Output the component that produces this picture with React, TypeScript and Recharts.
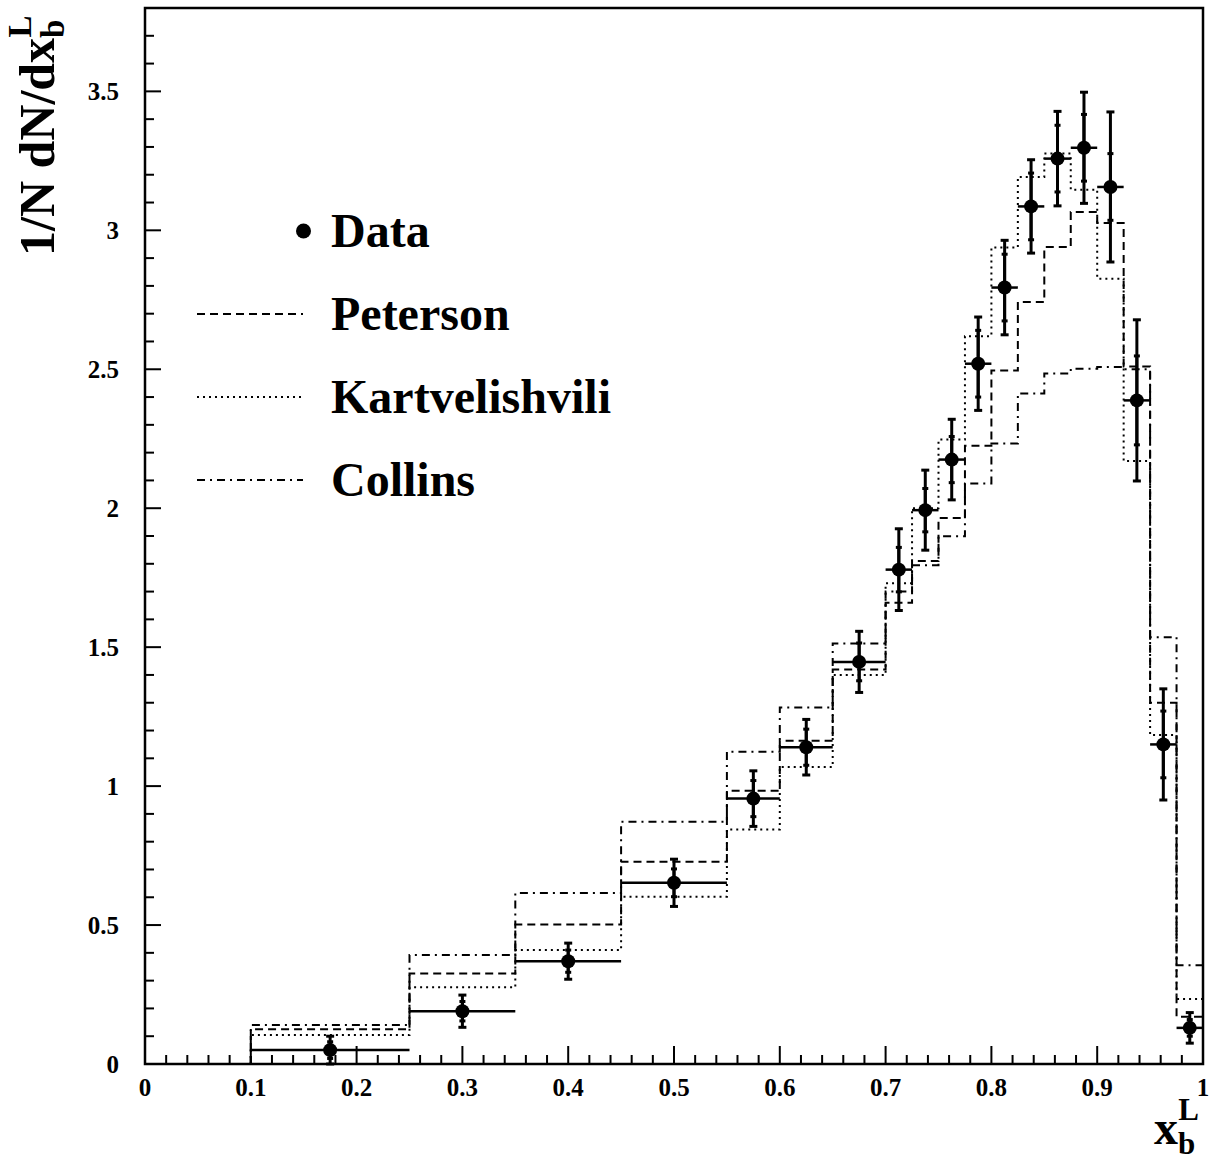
import React from 'react';
import { ComposedChart, Line, Scatter, XAxis, YAxis, ErrorBar, ReferenceArea, Legend, Label } from 'recharts';

const FONT = "'Liberation Serif', 'Times New Roman', Times, serif";

// Bin edges (x_b^L)
const binEdges = [0.1, 0.25, 0.35, 0.45, 0.55, 0.6, 0.65, 0.7, 0.725, 0.75, 0.775, 0.8, 0.825, 0.85, 0.875, 0.9, 0.925, 0.95, 0.975, 1.0];

// Measured data
const dataValues = [0.05, 0.19, 0.37, 0.652, 0.955, 1.14, 1.447, 1.779, 1.993, 2.175, 2.52, 2.794, 3.086, 3.258, 3.297, 3.156, 2.388, 1.15, 0.13];
const dataTotalErr = [0.05, 0.058, 0.065, 0.085, 0.1, 0.1, 0.11, 0.147, 0.144, 0.145, 0.168, 0.17, 0.168, 0.17, 0.2, 0.27, 0.29, 0.2, 0.055];
const dataStatErr = [0.03, 0.035, 0.04, 0.05, 0.065, 0.065, 0.068, 0.08, 0.078, 0.083, 0.12, 0.12, 0.12, 0.12, 0.12, 0.12, 0.16, 0.12, 0.03];

// Model histograms
const petersonValues = [0.125, 0.326, 0.502, 0.728, 0.983, 1.163, 1.42, 1.66, 1.81, 1.965, 2.225, 2.496, 2.742, 2.94, 3.066, 3.026, 2.51, 1.3, 0.17];
const kartvelishviliValues = [0.104, 0.276, 0.41, 0.602, 0.844, 1.069, 1.4, 1.73, 2.0, 2.247, 2.619, 2.938, 3.192, 3.276, 3.146, 2.826, 2.17, 1.184, 0.234];
const collinsValues = [0.14, 0.392, 0.615, 0.872, 1.124, 1.283, 1.513, 1.7, 1.795, 1.899, 2.089, 2.233, 2.413, 2.485, 2.502, 2.508, 2.5, 1.536, 0.355];

// Axis ticks
const xTickLabels = ['0', '0.1', '0.2', '0.3', '0.4', '0.5', '0.6', '0.7', '0.8', '0.9', '1'];
const yTickLabels = ['0', '0.5', '1', '1.5', '2', '2.5', '3', '3.5'];
const X_MAX = 1;
const Y_MAX = 3.8;

const xTicks: number[] = [];
for (let i = 0; i <= 50; i++) xTicks.push(Math.round(i * 2) / 100);
const yTicks: number[] = [];
for (let i = 0; i <= 38; i++) yTicks.push(Math.round(i) / 10);

const dataPoints = dataValues.map((v, i) => ({
  x: (binEdges[i] + binEdges[i + 1]) / 2,
  y: v,
  err: dataTotalErr[i],
  stat: dataStatErr[i],
  xerr: (binEdges[i + 1] - binEdges[i]) / 2,
}));

const toSteps = (vals: number[]) => {
  const pts = [{ x: binEdges[0], y: 0 }];
  vals.forEach((v, i) => pts.push({ x: binEdges[i], y: v }));
  pts.push({ x: binEdges[binEdges.length - 1], y: vals[vals.length - 1] });
  pts.push({ x: binEdges[binEdges.length - 1], y: 0 });
  return pts;
};

const SERIES = [
  { name: 'Peterson', values: petersonValues, dash: '8 5' },
  { name: 'Kartvelishvili', values: kartvelishviliValues, dash: '2 4' },
  { name: 'Collins', values: collinsValues, dash: '8 5 2 5' },
];

const isMajor = (v: number, step: number) => Math.abs(v / step - Math.round(v / step)) < 1e-6;

const XTick = (props: any) => {
  const { x, y, payload } = props;
  const v = payload.value;
  const major = isMajor(v, 0.1);
  return (
    <g>
      <line x1={x} y1={y} x2={x} y2={y - (major ? 18 : 9)} stroke="#000" strokeWidth={2} />
      {major && (
        <text x={x} y={y + 32} textAnchor="middle" fontFamily={FONT} fontWeight="bold" fontSize={25} fill="#000">
          {xTickLabels[Math.round(v * 10)]}
        </text>
      )}
    </g>
  );
};

const YTick = (props: any) => {
  const { x, y, payload } = props;
  const v = payload.value;
  const major = isMajor(v, 0.5);
  return (
    <g>
      <line x1={x} y1={y} x2={x + (major ? 16 : 9)} y2={y} stroke="#000" strokeWidth={2} />
      {major && (
        <text x={x - 26} y={y + 9} textAnchor="end" fontFamily={FONT} fontWeight="bold" fontSize={25} fill="#000">
          {yTickLabels[Math.round(v * 2)]}
        </text>
      )}
    </g>
  );
};

const YTitle = () => (
  <text transform="translate(54,256) rotate(-90)" fontFamily={FONT} fontWeight="bold" fontSize={50} fill="#000">
    1/N dN/dx<tspan fontSize={33} dy={10}>b</tspan>
    <tspan fontSize={33} dx={-18} dy={-33}>L</tspan>
  </text>
);

const XTitle = () => (
  <text x={1154} y={1144} fontFamily={FONT} fontWeight="bold" fontSize={48} fill="#000">
    x<tspan fontSize={31} dy={10}>b</tspan>
    <tspan fontSize={31} dx={-17} dy={-34}>L</tspan>
  </text>
);

const renderLegend = () => (
  <svg width={700} height={520} style={{ display: 'block', overflow: 'visible' }}>
    <circle cx={303.5} cy={231} r={7.5} fill="#000" />
    <text x={331} y={247} fontFamily={FONT} fontWeight="bold" fontSize={48} fill="#000">Data</text>
    {SERIES.map((s, i) => (
      <g key={s.name}>
        <line x1={197} x2={303} y1={314 + i * 83} y2={314 + i * 83} stroke="#000" strokeWidth={2} strokeDasharray={s.dash} />
        <text x={331} y={330 + i * 83} fontFamily={FONT} fontWeight="bold" fontSize={48} fill="#000">{s.name}</text>
      </g>
    ))}
  </svg>
);

export default function App() {
  return (
    <div style={{ position: 'absolute', left: 0, top: 0, width: 1212, height: 1163, background: '#fff' }}>
      <ComposedChart width={1212} height={1163} margin={{ top: 8, right: 9, bottom: 0, left: 0 }}>
        <XAxis
          type="number"
          dataKey="x"
          domain={[0, X_MAX]}
          ticks={xTicks}
          interval={0}
          tickSize={0}
          tickMargin={0}
          tick={<XTick />}
          tickLine={false}
          axisLine={false}
          height={99}
          allowDataOverflow
        >
          <Label content={<XTitle />} />
        </XAxis>
        <YAxis
          type="number"
          domain={[0, Y_MAX]}
          ticks={yTicks}
          interval={0}
          tickSize={0}
          tickMargin={0}
          tick={<YTick />}
          tickLine={false}
          axisLine={false}
          width={145}
          allowDataOverflow
        >
          <Label content={<YTitle />} />
        </YAxis>
        <ReferenceArea x1={0} x2={X_MAX} y1={0} y2={Y_MAX} fill="none" fillOpacity={0} stroke="#000" strokeWidth={2.5} ifOverflow="visible" />
        {SERIES.map((s) => (
          <Line
            key={s.name}
            name={s.name}
            data={toSteps(s.values)}
            dataKey="y"
            type="stepAfter"
            stroke="#000"
            strokeWidth={2}
            strokeDasharray={s.dash}
            dot={false}
            activeDot={false}
            isAnimationActive={false}
          />
        ))}
        <Scatter
          name="Data"
          data={dataPoints}
          dataKey="y"
          fill="#000"
          isAnimationActive={false}
          shape={(p: any) => <circle cx={p.cx} cy={p.cy} r={7} fill="#000" />}
        >
          <ErrorBar dataKey="xerr" direction="x" width={0} stroke="#000" strokeWidth={2.5} isAnimationActive={false} />
          <ErrorBar dataKey="err" direction="y" width={4} stroke="#000" strokeWidth={3} isAnimationActive={false} />
          <ErrorBar dataKey="stat" direction="y" width={3} stroke="#000" strokeWidth={3} isAnimationActive={false} />
        </Scatter>
        <Legend
          layout="vertical"
          align="center"
          verticalAlign="middle"
          content={renderLegend}
          wrapperStyle={{ position: 'absolute', left: 0, top: 0, width: 700, height: 520 }}
        />
      </ComposedChart>
    </div>
  );
}
